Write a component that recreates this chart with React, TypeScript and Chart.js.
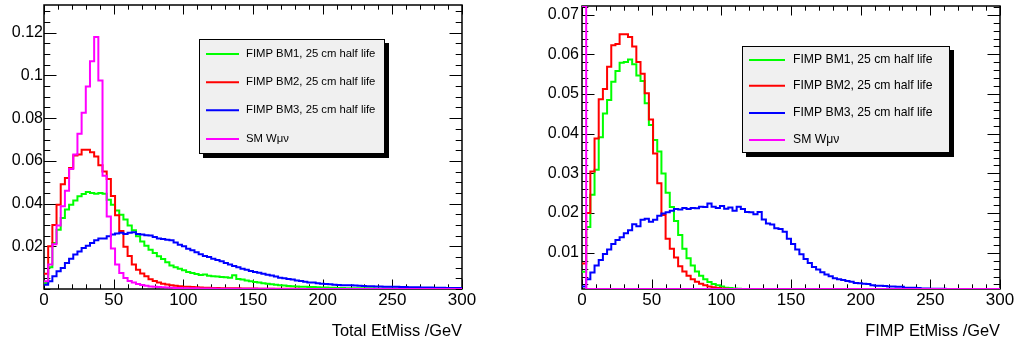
import React, { useEffect, useRef } from 'react';
import { Chart, registerables, LinearScale } from 'chart.js';

// ROOT draws values outside the frame clamped to the frame edge
class ClampedLinearScale extends LinearScale {
  static id = 'clampedLinear';
  static defaults = LinearScale.defaults;
  getPixelForValue(value: number, index?: number) {
    const p = super.getPixelForValue(value, index);
    return Math.min(this.bottom, Math.max(this.top, p));
  }
}
Chart.register(...registerables, ClampedLinearScale);

// ---------------- data ----------------
const binLowEdges = [
  0, 3, 6, 9, 12, 15, 18, 21, 24, 27, 30, 33, 36, 39, 42, 45, 48, 51, 54, 57,
  60, 63, 66, 69, 72, 75, 78, 81, 84, 87, 90, 93, 96, 99, 102, 105, 108, 111, 114, 117,
  120, 123, 126, 129, 132, 135, 138, 141, 144, 147, 150, 153, 156, 159, 162, 165, 168, 171, 174, 177,
  180, 183, 186, 189, 192, 195, 198, 201, 204, 207, 210, 213, 216, 219, 222, 225, 228, 231, 234, 237,
  240, 243, 246, 249, 252, 255, 258, 261, 264, 267, 270, 273, 276, 279, 282, 285, 288, 291, 294, 297,
];
const xUpperEdge = 300;

const seriesLabels = [
  'FIMP BM1, 25 cm half life',
  'FIMP BM2, 25 cm half life',
  'FIMP BM3, 25 cm half life',
  'SM W\u03bc\u03bd',
];
const seriesColors = ['#00ff00', '#ff0000', '#0000ff', '#ff00ff'];

// Left panel: Total EtMiss
const totalBM1 = [
  0.0028, 0.0102, 0.0215, 0.0278, 0.0332, 0.0372, 0.0395, 0.0415, 0.0434, 0.0445,
  0.0454, 0.0449, 0.0446, 0.0449, 0.0446, 0.0418, 0.0395, 0.0368, 0.0348, 0.0325,
  0.0297, 0.0275, 0.0247, 0.0223, 0.0203, 0.0184, 0.0169, 0.0153, 0.0140, 0.0125,
  0.0110, 0.0102, 0.0095, 0.0088, 0.0080, 0.0075, 0.0070, 0.0066, 0.0068, 0.0062,
  0.0060, 0.0058, 0.0056, 0.0055, 0.0053, 0.0064, 0.0047, 0.0044, 0.0040, 0.0036,
  0.0033, 0.0030, 0.0027, 0.0025, 0.0022, 0.0020, 0.0018, 0.0016, 0.0014, 0.0013,
  0.0012, 0.0011, 0.0010, 0.0009, 0.0009, 0.0008, 0.0007, 0.0007, 0.0006, 0.0006,
  0.0005, 0.0005, 0.0004, 0.0004, 0.0004, 0.0003, 0.0003, 0.0003, 0.0003, 0.0002,
  0.0002, 0.0002, 0.0002, 0.0002, 0.0002, 0.0001, 0.0001, 0.0001, 0.0001, 0.0001,
  0.0001, 0.0001, 0.0001, 0.0001, 0.0001, 0.0001, 0.0001, 0.0, 0.0, 0.0,
];
const totalBM2 = [
  0.0072, 0.0200, 0.0300, 0.0395, 0.0490, 0.0520, 0.0567, 0.0625, 0.0630, 0.0652,
  0.0652, 0.0640, 0.0620, 0.0580, 0.0550, 0.0515, 0.0435, 0.0345, 0.0272, 0.0198,
  0.0155, 0.0115, 0.0090, 0.0073, 0.0060, 0.0046, 0.0037, 0.0030, 0.0025, 0.0021,
  0.0018, 0.0015, 0.0013, 0.0011, 0.0010, 0.0009, 0.0008, 0.0007, 0.0006, 0.0006,
  0.0005, 0.0005, 0.0004, 0.0004, 0.0003, 0.0003, 0.0003, 0.0002, 0.0002, 0.0002,
  0.0002, 0.0001, 0.0001, 0.0001, 0.0001, 0.0001, 0.0001, 0.0001, 0.0001, 0.0001,
  0.0001, 0.0, 0.0, 0.0, 0.0, 0.0, 0.0, 0.0, 0.0, 0.0,
  0.0, 0.0, 0.0, 0.0, 0.0, 0.0, 0.0, 0.0, 0.0, 0.0,
  0.0, 0.0, 0.0, 0.0, 0.0, 0.0, 0.0, 0.0, 0.0, 0.0,
  0.0, 0.0, 0.0, 0.0, 0.0, 0.0, 0.0, 0.0, 0.0, 0.0,
];
const totalBM3 = [
  0.0020, 0.0036, 0.0060, 0.0083, 0.0098, 0.0122, 0.0142, 0.0161, 0.0176, 0.0192,
  0.0203, 0.0215, 0.0228, 0.0236, 0.0236, 0.0247, 0.0255, 0.0260, 0.0263, 0.0258,
  0.0263, 0.0266, 0.0258, 0.0255, 0.0252, 0.0250, 0.0244, 0.0237, 0.0234, 0.0231,
  0.0228, 0.0218, 0.0207, 0.0200, 0.0189, 0.0182, 0.0172, 0.0163, 0.0155, 0.0150,
  0.0142, 0.0136, 0.0130, 0.0122, 0.0115, 0.0108, 0.0102, 0.0095, 0.0090, 0.0084,
  0.0080, 0.0076, 0.0072, 0.0067, 0.0063, 0.0058, 0.0053, 0.0050, 0.0047, 0.0044,
  0.0040, 0.0037, 0.0034, 0.0031, 0.0030, 0.0027, 0.0025, 0.0023, 0.0022, 0.0020,
  0.0019, 0.0018, 0.0017, 0.0017, 0.0016, 0.0015, 0.0014, 0.0013, 0.0013, 0.0012,
  0.0012, 0.0011, 0.0011, 0.0010, 0.0010, 0.0009, 0.0009, 0.0008, 0.0008, 0.0008,
  0.0007, 0.0007, 0.0007, 0.0006, 0.0006, 0.0006, 0.0005, 0.0005, 0.0005, 0.0005,
];
const totalSM = [
  0.0036, 0.0115, 0.0210, 0.0297, 0.0388, 0.0460, 0.0562, 0.0630, 0.0727, 0.0825,
  0.0948, 0.1066, 0.1180, 0.0977, 0.0530, 0.0340, 0.0190, 0.0115, 0.0075, 0.0052,
  0.0038, 0.0030, 0.0024, 0.0019, 0.0015, 0.0012, 0.0010, 0.0009, 0.0008, 0.0007,
  0.0006, 0.0005, 0.0005, 0.0004, 0.0004, 0.0003, 0.0003, 0.0002, 0.0002, 0.0002,
  0.0002, 0.0001, 0.0001, 0.0001, 0.0001, 0.0001, 0.0001, 0.0001, 0.0001, 0.0001,
  0.0001, 0.0001, 0.0001, 0.0001, 0.0001, 0.0, 0.0, 0.0, 0.0, 0.0,
  0.0, 0.0, 0.0, 0.0, 0.0, 0.0, 0.0, 0.0, 0.0, 0.0,
  0.0, 0.0, 0.0, 0.0, 0.0, 0.0, 0.0, 0.0, 0.0, 0.0,
  0.0, 0.0, 0.0, 0.0, 0.0, 0.0, 0.0, 0.0, 0.0, 0.0,
  0.0, 0.0, 0.0, 0.0, 0.0, 0.0, 0.0, 0.0, 0.0, 0.0,
];

// Right panel: FIMP EtMiss
const fimpBM1 = [
  0.0052, 0.0165, 0.0246, 0.0309, 0.0391, 0.0451, 0.0485, 0.0531, 0.0558, 0.0579,
  0.0581, 0.0587, 0.0575, 0.0547, 0.0533, 0.0477, 0.0422, 0.0384, 0.0355, 0.0300,
  0.0251, 0.0215, 0.0180, 0.0145, 0.0110, 0.0086, 0.0068, 0.0053, 0.0042, 0.0033,
  0.0026, 0.0021, 0.0018, 0.0015, 0.0012, 0.0011, 0.0010, 0.0009, 0.0008, 0.0007,
  0.0006, 0.0005, 0.0005, 0.0004, 0.0004, 0.0003, 0.0003, 0.0002, 0.0002, 0.0002,
  0.0001, 0.0001, 0.0001, 0.0001, 0.0001, 0.0001, 0.0001, 0.0001, 0.0001, 0.0001,
  0.0001, 0.0001, 0.0001, 0.0001, 0.0001, 0.0, 0.0, 0.0, 0.0, 0.0,
  0.0, 0.0, 0.0, 0.0, 0.0, 0.0, 0.0, 0.0, 0.0, 0.0,
  0.0, 0.0, 0.0, 0.0, 0.0, 0.0, 0.0, 0.0, 0.0, 0.0,
  0.0, 0.0, 0.0, 0.0, 0.0, 0.0, 0.0, 0.0, 0.0, 0.0,
];
const fimpBM2 = [
  0.0073, 0.0200, 0.0305, 0.0388, 0.0487, 0.0513, 0.0569, 0.0623, 0.0626, 0.0651,
  0.0651, 0.0644, 0.0620, 0.0581, 0.0551, 0.0502, 0.0436, 0.0350, 0.0275, 0.0195,
  0.0135, 0.0110, 0.0088, 0.0066, 0.0053, 0.0042, 0.0033, 0.0027, 0.0022, 0.0018,
  0.0015, 0.0013, 0.0011, 0.0010, 0.0009, 0.0008, 0.0007, 0.0006, 0.0005, 0.0005,
  0.0004, 0.0004, 0.0003, 0.0003, 0.0002, 0.0002, 0.0002, 0.0001, 0.0001, 0.0001,
  0.0, 0.0, 0.0, 0.0, 0.0, 0.0, 0.0, 0.0, 0.0, 0.0,
  0.0, 0.0, 0.0, 0.0, 0.0, 0.0, 0.0, 0.0, 0.0, 0.0,
  0.0, 0.0, 0.0, 0.0, 0.0, 0.0, 0.0, 0.0, 0.0, 0.0,
  0.0, 0.0, 0.0, 0.0, 0.0, 0.0, 0.0, 0.0, 0.0, 0.0,
  0.0, 0.0, 0.0, 0.0, 0.0, 0.0, 0.0, 0.0, 0.0, 0.0,
];
const fimpBM3 = [
  0.0015, 0.0033, 0.0050, 0.0068, 0.0082, 0.0097, 0.0108, 0.0122, 0.0132, 0.0139,
  0.0149, 0.0157, 0.0172, 0.0167, 0.0183, 0.0186, 0.0178, 0.0183, 0.0193, 0.0199,
  0.0202, 0.0206, 0.0210, 0.0209, 0.0213, 0.0210, 0.0213, 0.0212, 0.0216, 0.0215,
  0.0224, 0.0216, 0.0213, 0.0218, 0.0211, 0.0214, 0.0206, 0.0216, 0.0210, 0.0203,
  0.0202, 0.0197, 0.0203, 0.0184, 0.0174, 0.0171, 0.0162, 0.0160, 0.0153, 0.0135,
  0.0122, 0.0108, 0.0096, 0.0084, 0.0074, 0.0064, 0.0058, 0.0051, 0.0045, 0.0041,
  0.0036, 0.0033, 0.0031, 0.0029, 0.0027, 0.0024, 0.0023, 0.0022, 0.0021, 0.0018,
  0.0017, 0.0017, 0.0016, 0.0015, 0.0015, 0.0014, 0.0014, 0.0012, 0.0012, 0.0012,
  0.0011, 0.0010, 0.0010, 0.0009, 0.0009, 0.0009, 0.0009, 0.0008, 0.0007, 0.0006,
  0.0005, 0.0005, 0.0004, 0.0004, 0.0003, 0.0003, 0.0003, 0.0002, 0.0002, 0.0002,
];
const fimpSM = [
  1.0, 0.0, 0.0, 0.0, 0.0, 0.0, 0.0, 0.0, 0.0, 0.0,
  0.0, 0.0, 0.0, 0.0, 0.0, 0.0, 0.0, 0.0, 0.0, 0.0,
  0.0, 0.0, 0.0, 0.0, 0.0, 0.0, 0.0, 0.0, 0.0, 0.0,
  0.0, 0.0, 0.0, 0.0, 0.0, 0.0, 0.0, 0.0, 0.0, 0.0,
  0.0, 0.0, 0.0, 0.0, 0.0, 0.0, 0.0, 0.0, 0.0, 0.0,
  0.0, 0.0, 0.0, 0.0, 0.0, 0.0, 0.0, 0.0, 0.0, 0.0,
  0.0, 0.0, 0.0, 0.0, 0.0, 0.0, 0.0, 0.0, 0.0, 0.0,
  0.0, 0.0, 0.0, 0.0, 0.0, 0.0, 0.0, 0.0, 0.0, 0.0,
  0.0, 0.0, 0.0, 0.0, 0.0, 0.0, 0.0, 0.0, 0.0, 0.0,
  0.0, 0.0, 0.0, 0.0, 0.0, 0.0, 0.0, 0.0, 0.0, 0.0,
];

const xTickValues = [0, 50, 100, 150, 200, 250, 300];
const leftYTickValues = [0.02, 0.04, 0.06, 0.08, 0.1, 0.12];
const rightYTickValues = [0.01, 0.02, 0.03, 0.04, 0.05, 0.06, 0.07];

// ---------------- helpers ----------------
const FONT = '"Liberation Sans", Arial, Helvetica, sans-serif';

function histPoints(values: number[]) {
  const pts: { x: number; y: number }[] = [];
  values.forEach((v, i) => pts.push({ x: binLowEdges[i], y: v }));
  pts.push({ x: xUpperEdge, y: values[values.length - 1] });
  return pts;
}

function makeRootPlugin(cfg: any) {
  return {
    id: 'rootStyle',
    beforeDatasetsDraw(chart: any) {
      const { ctx, chartArea: a } = chart;
      const xs = chart.scales.x;
      const ys = chart.scales.y;
      ctx.save();
      ctx.strokeStyle = '#000';
      ctx.lineWidth = 1;
      ctx.beginPath();
      const xTick = (v: number, len: number) => {
        const px = Math.round(xs.getPixelForValue(v)) + 0.5;
        ctx.moveTo(px, a.bottom);
        ctx.lineTo(px, a.bottom - len);
        ctx.moveTo(px, a.top);
        ctx.lineTo(px, a.top + len);
      };
      const yTick = (v: number, len: number) => {
        const py = Math.round(ys.getPixelForValue(v)) + 0.5;
        ctx.moveTo(a.left, py);
        ctx.lineTo(a.left + len, py);
        ctx.moveTo(a.right, py);
        ctx.lineTo(a.right - len, py);
      };
      for (let v = xs.min; v <= xs.max + 1e-9; v += cfg.xMinorStep) xTick(v, 4.7);
      xTickValues.forEach((v) => xTick(v, 9.5));
      const yStart = Math.ceil(ys.min / cfg.yMinorStep - 1e-6) * cfg.yMinorStep;
      for (let v = yStart; v <= ys.max + 1e-9; v += cfg.yMinorStep) yTick(v, 6.3);
      cfg.yMajor.forEach((v: number) => yTick(v, 12.5));
      ctx.stroke();
      ctx.lineWidth = 1.5;
      ctx.strokeRect(a.left, a.top, a.right - a.left, a.bottom - a.top);
      ctx.restore();
    },
    afterDatasetsDraw(chart: any) {
      const { ctx } = chart;
      const L = cfg.legend;
      ctx.save();
      ctx.fillStyle = '#000';
      ctx.fillRect(L.x + 4, L.y + 4, L.w, L.h);
      ctx.fillStyle = '#f0f0f0';
      ctx.fillRect(L.x, L.y, L.w, L.h);
      ctx.strokeStyle = '#000';
      ctx.lineWidth = 1;
      ctx.strokeRect(L.x + 0.5, L.y + 0.5, L.w - 1, L.h - 1);
      ctx.font = `${L.font}px ${FONT}`;
      ctx.textAlign = 'left';
      ctx.textBaseline = 'middle';
      seriesLabels.forEach((label, i) => {
        const ry = L.rows[i];
        ctx.strokeStyle = seriesColors[i];
        ctx.lineWidth = 2;
        ctx.beginPath();
        ctx.moveTo(L.lineX0, ry);
        ctx.lineTo(L.lineX1, ry);
        ctx.stroke();
        ctx.fillStyle = '#000';
        ctx.fillText(label, L.textX, ry);
      });
      ctx.restore();
    },
    afterDraw(chart: any) {
      const { ctx, chartArea: a } = chart;
      ctx.save();
      ctx.font = `16.4px ${FONT}`;
      ctx.fillStyle = '#000';
      ctx.textAlign = 'right';
      ctx.textBaseline = 'alphabetic';
      ctx.fillText(cfg.title, a.right, 336);
      ctx.restore();
    },
  };
}

function buildConfig(p: any) {
  const series = [p.bm1, p.bm2, p.bm3, p.sm];
  const orders = [3, 2, 1, 0];
  return {
    type: 'line',
    data: {
      datasets: series.map((vals: number[], i: number) => ({
        label: seriesLabels[i],
        data: histPoints(vals),
        borderColor: seriesColors[i],
        backgroundColor: seriesColors[i],
        borderWidth: 2,
        pointRadius: 0,
        stepped: true,
        fill: false,
        tension: 0,
        order: orders[i],
      })),
    },
    options: {
      animation: false,
      responsive: false,
      devicePixelRatio: 1,
      events: [],
      layout: { padding: { left: 0, right: p.padRight, top: p.top, bottom: 0 } },
      plugins: { legend: { display: false }, tooltip: { enabled: false } },
      scales: {
        x: {
          type: 'linear',
          min: 0,
          max: 300,
          grid: { display: false, drawTicks: false },
          border: { display: false },
          afterBuildTicks: (s: any) => {
            s.ticks = xTickValues.map((v) => ({ value: v }));
          },
          afterFit: (s: any) => {
            s.height = 345 - p.bottom;
            s.paddingLeft = 0;
            s.paddingRight = 0;
          },
          ticks: {
            color: '#000',
            font: { family: FONT, size: 17 },
            padding: 1,
            maxRotation: 0,
            minRotation: 0,
            autoSkip: false,
            callback: (v: number) => String(v),
          },
        },
        y: {
          type: 'clampedLinear',
          min: p.yMin,
          max: p.yMax,
          grid: { display: false, drawTicks: false },
          border: { display: false },
          afterBuildTicks: (s: any) => {
            s.ticks = p.yTicks.map((v: number) => ({ value: v }));
          },
          afterFit: (s: any) => {
            s.width = p.left;
            s.paddingTop = 0;
            s.paddingBottom = 0;
          },
          ticks: {
            color: '#000',
            font: { family: FONT, size: 16 },
            padding: p.yPad,
            autoSkip: false,
            callback: (v: number) => String(+Number(v).toFixed(4)),
          },
        },
      },
    },
    plugins: [makeRootPlugin(p.plugin)],
  };
}

const leftPanel = {
  bm1: totalBM1, bm2: totalBM2, bm3: totalBM3, sm: totalSM,
  yMin: 0, yMax: 0.133, yTicks: leftYTickValues,
  left: 44, padRight: 48, top: 5, bottom: 289, yPad: 1,
  plugin: {
    xMinorStep: 10, yMinorStep: 0.005, yMajor: leftYTickValues,
    title: 'Total EtMiss /GeV',
    legend: { x: 199, y: 39, w: 186, h: 115, font: 11.3, rows: [54, 82.3, 110.3, 139], lineX0: 206, lineX1: 239, textX: 246 },
  },
};

const rightPanel = {
  bm1: fimpBM1, bm2: fimpBM2, bm3: fimpBM3, sm: fimpSM,
  yMin: 0.00086, yMax: 0.0722, yTicks: rightYTickValues,
  left: 72, padRight: 20, top: 6, bottom: 289, yPad: 3,
  plugin: {
    xMinorStep: 10, yMinorStep: 0.002, yMajor: rightYTickValues,
    title: 'FIMP EtMiss /GeV',
    legend: { x: 232, y: 46, w: 208, h: 107, font: 12.2, rows: [60, 85.7, 113, 140], lineX0: 239, lineX1: 275, textX: 283 },
  },
};

function Panel({ cfg, left }: { cfg: any; left: number }) {
  const ref = useRef<HTMLCanvasElement | null>(null);
  useEffect(() => {
    if (!ref.current) return;
    const chart = new Chart(ref.current, buildConfig(cfg) as any);
    return () => chart.destroy();
  }, [cfg]);
  return (
    <canvas
      ref={ref}
      width={510}
      height={345}
      style={{ position: 'absolute', left, top: 0, width: 510, height: 345 }}
    />
  );
}

export default function App() {
  return (
    <div style={{ position: 'absolute', left: 0, top: 0, width: 1020, height: 345, background: '#fff', overflow: 'hidden' }}>
      <Panel cfg={leftPanel} left={0} />
      <Panel cfg={rightPanel} left={510} />
    </div>
  );
}
